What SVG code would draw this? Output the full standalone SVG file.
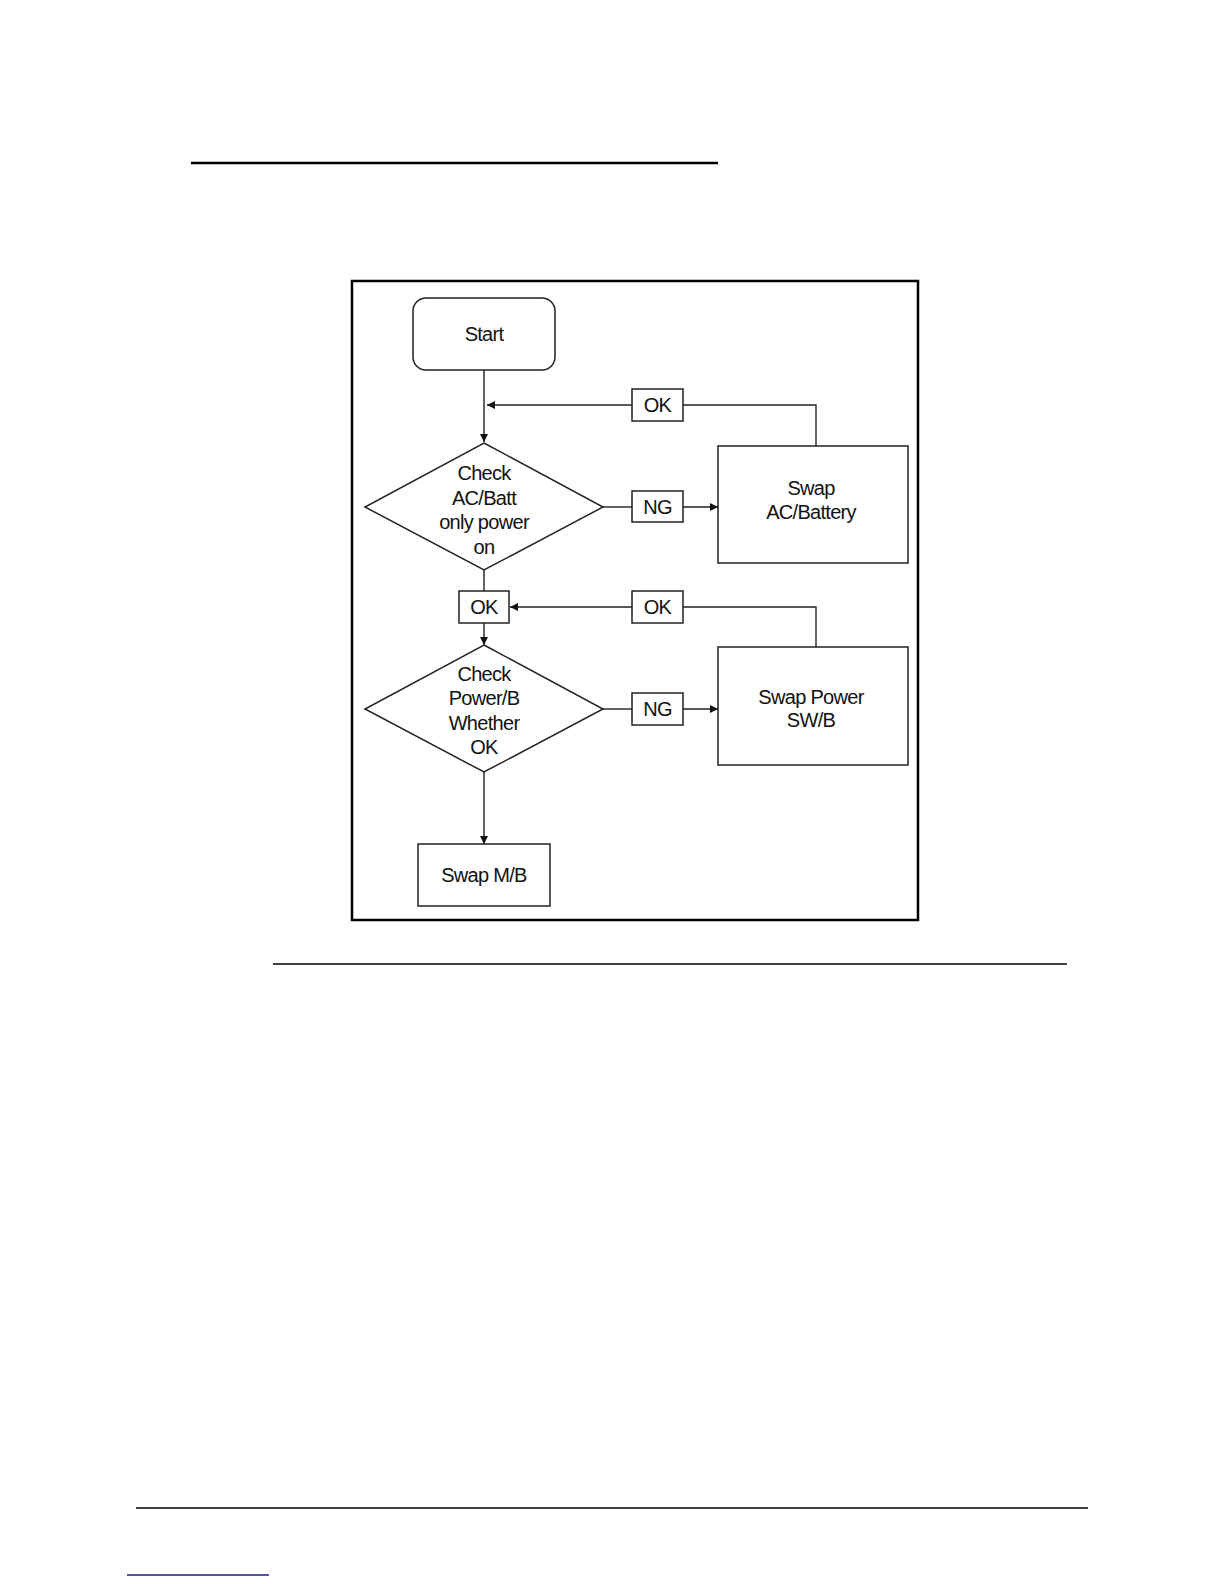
<svg xmlns="http://www.w3.org/2000/svg" width="1224" height="1584" viewBox="0 0 1224 1584">
<style>
.box{fill:#fff;stroke:#222;stroke-width:1.5}
.lbl{fill:#fff;stroke:#222;stroke-width:1.5}
.ln{fill:none;stroke:#222;stroke-width:1.4}
.t{font-family:"Liberation Sans",Arial,sans-serif;font-size:20px;fill:#111;text-anchor:middle;letter-spacing:-0.7px}
</style>
<defs>
<marker id="ah" viewBox="0 0 10 10" refX="10" refY="5" markerWidth="9" markerHeight="8" markerUnits="userSpaceOnUse" orient="auto">
<path d="M0,0 L10,5 L0,10 Z" fill="#111"/>
</marker>
</defs>
<rect width="1224" height="1584" fill="#fff"/>
<line x1="191" y1="163" x2="718" y2="163" stroke="#000" stroke-width="2.5"/>
<line x1="273" y1="964" x2="1067" y2="964" stroke="#000" stroke-width="1.5"/>
<line x1="136" y1="1508" x2="1088" y2="1508" stroke="#000" stroke-width="1.5"/>
<line x1="127" y1="1575" x2="269" y2="1575" stroke="#1a1a8c" stroke-width="1.5"/>
<rect x="352" y="281" width="566" height="639" fill="none" stroke="#000" stroke-width="2.5"/>

<g id="connectors">
<line class="ln" x1="484" y1="370" x2="484" y2="442" marker-end="url(#ah)"/>
<polyline class="ln" points="816,446 816,405 683,405"/>
<line class="ln" x1="632" y1="405" x2="487" y2="405" marker-end="url(#ah)"/>
<line class="ln" x1="603" y1="507" x2="632" y2="507"/>
<line class="ln" x1="683" y1="507" x2="718" y2="507" marker-end="url(#ah)"/>
<line class="ln" x1="484" y1="570" x2="484" y2="591"/>
<line class="ln" x1="484" y1="623" x2="484" y2="645" marker-end="url(#ah)"/>
<polyline class="ln" points="816,647 816,607 683,607"/>
<line class="ln" x1="632" y1="607" x2="510" y2="607" marker-end="url(#ah)"/>
<line class="ln" x1="603" y1="709" x2="632" y2="709"/>
<line class="ln" x1="683" y1="709" x2="718" y2="709" marker-end="url(#ah)"/>
<line class="ln" x1="484" y1="772" x2="484" y2="844" marker-end="url(#ah)"/>
</g>

<g id="start">
<rect class="box" x="413" y="298" width="142" height="72" rx="13"/>
<text class="t" x="484" y="341">Start</text>
</g>
<g id="check-acbatt">
<polygon class="box" points="484,443 603,507 484,570 365,507"/>
<text class="t" x="484" y="480">Check</text>
<text class="t" x="484" y="505">AC/Batt</text>
<text class="t" x="484" y="529">only power</text>
<text class="t" x="484" y="554">on</text>
</g>
<g id="ok1">
<rect class="lbl" x="632" y="389" width="51" height="32"/>
<text class="t" x="657.5" y="412">OK</text>
</g>
<g id="ng1">
<rect class="lbl" x="632" y="491" width="51" height="31"/>
<text class="t" x="657.5" y="514">NG</text>
</g>
<g id="swap-acbattery">
<rect class="box" x="718" y="446" width="190" height="117"/>
<text class="t" x="811" y="495">Swap</text>
<text class="t" x="811" y="519">AC/Battery</text>
</g>
<g id="ok-left">
<rect class="lbl" x="459" y="591" width="50" height="32"/>
<text class="t" x="484" y="614">OK</text>
</g>
<g id="ok2">
<rect class="lbl" x="632" y="591" width="51" height="32"/>
<text class="t" x="657.5" y="614">OK</text>
</g>
<g id="check-powerb">
<polygon class="box" points="484,645 603,709 484,772 365,709"/>
<text class="t" x="484" y="681">Check</text>
<text class="t" x="484" y="705">Power/B</text>
<text class="t" x="484" y="730">Whether</text>
<text class="t" x="484" y="754">OK</text>
</g>
<g id="ng2">
<rect class="lbl" x="632" y="693" width="51" height="32"/>
<text class="t" x="657.5" y="716">NG</text>
</g>
<g id="swap-power">
<rect class="box" x="718" y="647" width="190" height="118"/>
<text class="t" x="811" y="704">Swap Power</text>
<text class="t" x="811" y="727">SW/B</text>
</g>
<g id="swap-mb">
<rect class="box" x="418" y="844" width="132" height="62"/>
<text class="t" x="484" y="882">Swap M/B</text>
</g>
</svg>
